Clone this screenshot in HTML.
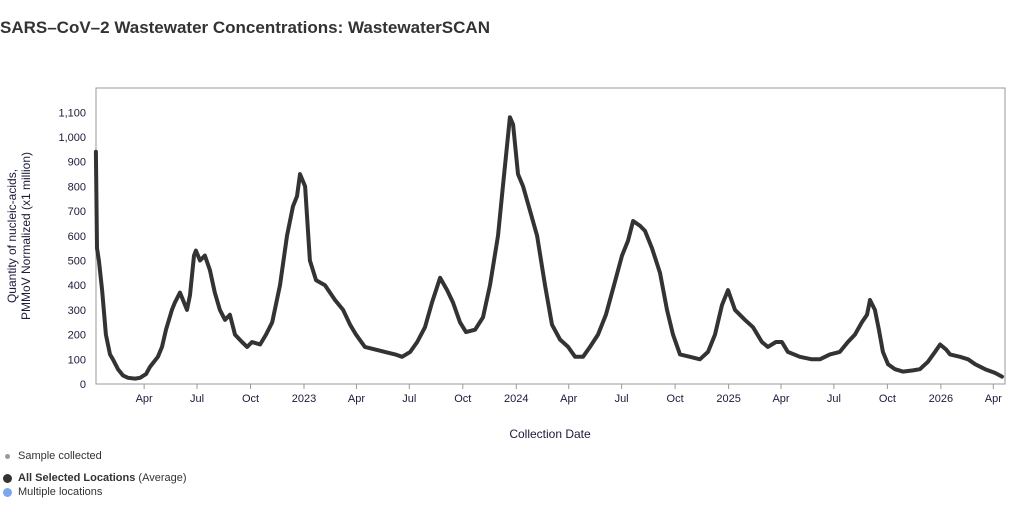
<!DOCTYPE html>
<html><head><meta charset="utf-8"><style>
body{margin:0;background:#fff;font-family:"Liberation Sans",Arial,sans-serif;}
#wrap{position:relative;width:1024px;height:506px;overflow:hidden;}
.title{position:absolute;left:0;top:18px;font-size:17px;font-weight:bold;color:#333;}
.leg{position:absolute;left:3px;font-size:11px;color:#333;display:flex;align-items:center;}
.dot{display:inline-block;border-radius:50%;margin-right:6px;}
</style></head><body>
<div id="wrap">
<div class="title">SARS–CoV–2 Wastewater Concentrations: WastewaterSCAN</div>
<svg id="chart" width="1024" height="506" style="position:absolute;left:0;top:0"></svg>
<div class="leg" style="top:450px"><span class="dot" style="width:5px;height:5px;background:#999;margin-left:2px;margin-right:8px"></span>Sample collected</div>
<div class="leg" style="top:472px"><span class="dot" style="width:9px;height:9px;background:#333"></span><b>All Selected Locations</b>&nbsp;(Average)</div>
<div class="leg" style="top:486px"><span class="dot" style="width:9px;height:9px;background:#7aa7f0"></span>Multiple locations</div>
</div>
<script>
const t=[.020,.025,.034,.049,.067,.086,.100,.124,.147,.171,.204,.228,.256,.275,.298,.312,.331,.350,.378,.392,.416,.449,.463,.482,.491,.510,.533,.557,.580,.604,.628,.651,.675,.708,.732,.755,.793,.821,.850,.887,.920,.948,.967,.981,1.005,1.028,1.057,1.099,1.146,1.184,1.217,1.245,1.287,1.334,1.381,1.429,1.462,1.500,1.533,1.570,1.603,1.641,1.674,1.702,1.735,1.763,1.806,1.843,1.876,1.914,1.937,1.970,1.985,2.008,2.032,2.065,2.098,2.135,2.168,2.206,2.244,2.277,2.314,2.347,2.385,2.422,2.460,2.498,2.526,2.550,2.583,2.606,2.639,2.677,2.710,2.738,2.771,2.818,2.865,2.903,2.936,2.969,2.997,3.030,3.077,3.115,3.157,3.185,3.223,3.251,3.279,3.336,3.392,3.430,3.477,3.524,3.562,3.595,3.628,3.652,3.666,3.689,3.708,3.727,3.751,3.784,3.821,3.868,3.901,3.939,3.972,3.996,4.024,4.043,4.090,4.128,4.161,4.208,4.255,4.288];
const values=[940,550,500,380,200,120,100,60,35,25,22,25,40,70,95,110,150,220,300,330,370,300,360,520,540,500,520,460,370,300,260,280,200,170,150,170,160,200,250,400,600,720,760,850,800,500,420,400,340,300,240,200,150,140,130,120,110,130,170,230,330,430,380,330,250,210,220,270,400,600,800,1080,1050,850,800,700,600,400,240,180,150,110,110,150,200,280,400,520,580,660,640,620,550,450,300,200,120,110,100,130,200,320,380,300,260,230,170,150,170,170,130,110,100,100,120,130,170,200,250,280,340,300,220,130,80,60,50,55,60,90,130,160,140,120,110,100,80,60,45,30];
const yTicks=[0,100,200,300,400,500,600,700,800,900,1000,1100];
const xTickLabels=["Apr","Jul","Oct","2023","Apr","Jul","Oct","2024","Apr","Jul","Oct","2025","Apr","Jul","Oct","2026","Apr"];
const xTickPos=[.247,.496,.748,1,1.247,1.496,1.748,2,2.247,2.496,2.748,3,3.247,3.496,3.748,4,4.247];
const L=96,R=1005,T=88,B=384;
const xs=v=>91.7+v*212.3;
const ys=v=>B-v*(B-112.3)/1100;
const svg=document.getElementById('chart');
const NS='http://www.w3.org/2000/svg';
function mk(tag,a){const e=document.createElementNS(NS,tag);for(const k in a)e.setAttribute(k,a[k]);svg.appendChild(e);return e;}
const frame=mk('rect',{x:L,y:T,width:R-L,height:B-T,fill:'none',stroke:'#999','stroke-width':1});


yTicks.forEach(v=>{
 const tx=mk('text',{x:86,y:ys(v)+4,'text-anchor':'end','font-size':11,fill:'#1a1a3a','font-family':'Liberation Sans, sans-serif'});
 tx.textContent=v.toLocaleString('en-US');
 
 
});
xTickLabels.forEach((lab,i)=>{
 const x=xs(xTickPos[i]);
 const ln=mk('line',{x1:x,x2:x,y1:B,y2:B+5,stroke:'#999'});
 
 
 const tx=mk('text',{x:x,y:B+18,'text-anchor':'middle','font-size':11,fill:'#1a1a3a','font-family':'Liberation Sans, sans-serif'});
 tx.textContent=lab;
 
 
});
const d=t.map((v,i)=>(i?'L':'M')+xs(v).toFixed(1)+','+ys(values[i]).toFixed(1)).join('');
const p=mk('path',{d:d,fill:'none',stroke:'#333','stroke-width':4,'stroke-linejoin':'round','stroke-linecap':'round'});


const xt=mk('text',{x:550,y:438,'text-anchor':'middle','font-size':12,fill:'#1a1a3a','font-family':'Liberation Sans, sans-serif'});
xt.textContent='Collection Date';


const g=mk('text',{transform:'translate(16,236) rotate(-90)','text-anchor':'middle','font-size':12,fill:'#1a1a3a','font-family':'Liberation Sans, sans-serif'});


const s1=document.createElementNS(NS,'tspan');s1.setAttribute('x',0);s1.setAttribute('dy',0);s1.textContent='Quantity of nucleic-acids,';g.appendChild(s1);
const s2=document.createElementNS(NS,'tspan');s2.setAttribute('x',0);s2.setAttribute('dy',14);s2.textContent='PMMoV Normalized (x1 million)';g.appendChild(s2);
</script>
</body></html>
